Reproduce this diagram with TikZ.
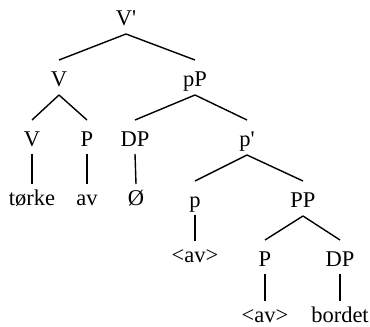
\documentclass[tikz,border=0pt]{standalone}
\usepackage{fontspec}
\setmainfont{Liberation Serif}
\usetikzlibrary{calc}
\begin{document}
\begin{tikzpicture}[x=1pt,y=1pt,
  lab/.style={anchor=base,inner sep=0pt,font=\fontsize{22.5}{26}\selectfont},
  edge/.style={line width=1.4pt,black}]
\useasboundingbox (0,0) rectangle (370,327);
\node[lab] (root) at (126,301) {V\textquotesingle};
\node[lab] (v1) at (59,240) {V};
\node[lab] (pP) at (195,240) {pP};
\node[lab] (v2) at (32,180) {V};
\node[lab] (p1) at (87,180) {P};
\node[lab] (dp1) at (135,180) {DP};
\node[lab] (pbar) at (247,180) {p\textquotesingle};
\node[lab] (w1) at (32,121) {tørke};
\node[lab] (w2) at (87,121) {av};
\node[lab] (w3) at (136,121) {Ø};
\node[lab] (ps) at (195,119) {p};
\node[lab] (PP) at (303,119) {PP};
\node[lab] (av1) at (195,64) {<av>};
\node[lab] (p2) at (265,60) {P};
\node[lab] (dp2) at (340,60) {DP};
\node[lab] (av2) at (265,4) {<av>};
\node[lab] (bord) at (340,4) {bordet};
% branching edges
\foreach \a/\b in {root/v1,root/pP,v1/v2,v1/p1,pP/dp1,pP/pbar,pbar/ps,pbar/PP,PP/p2,PP/dp2}
  \draw[edge] ($(\a.base)+(0,-8)$) -- ($(\b.base)+(0,27)$);
% unary edges
\foreach \a/\b in {v2/w1,p1/w2,dp1/w3,ps/av1,p2/av2,dp2/bord}
  \draw[edge] ($(\a.base)+(0,-7)$) -- ($(\b.base)+(0,22)$);
\end{tikzpicture}
\end{document}
